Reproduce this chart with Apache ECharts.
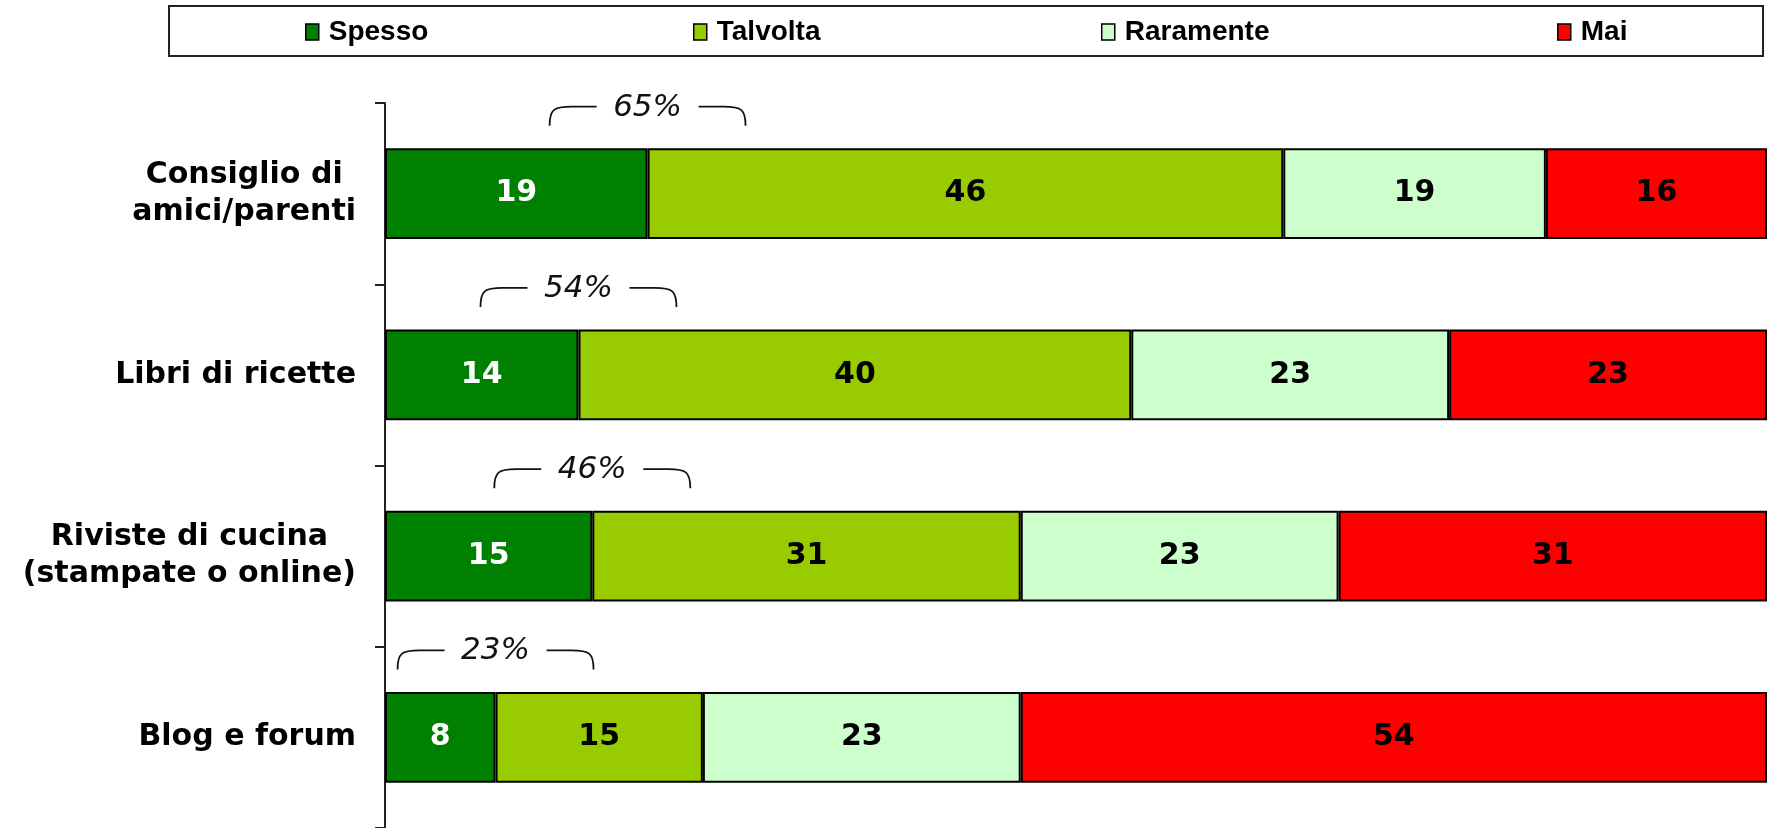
<!DOCTYPE html>
<html>
<head>
<meta charset="utf-8">
<script src="https://cdn.jsdelivr.net/npm/echarts@6/dist/echarts.min.js"></script>
<style>
  html, body { margin: 0; padding: 0; background: #fff; }
  #chart { width: 1769px; height: 828px; }
</style>
</head>
<body>
<div id="chart"></div>
<script>
const categories = ['Consiglio di\namici/parenti', 'Libri di ricette', 'Riviste di cucina\n(stampate o online)', 'Blog e forum']
const seriesNames = ['Spesso', 'Talvolta', 'Raramente', 'Mai']
const spesso = [19, 14, 15, 8]
const talvolta = [46, 40, 31, 15]
const raramente = [19, 23, 23, 23]
const mai = [16, 23, 31, 54]

const colors = ['#008000', '#99cc00', '#ccffcc', '#ff0000']
const labelColors = ['#fff', '#000', '#000', '#000']
const legendLeft = [305, 693, 1101, 1557]

const myChart = echarts.init(document.getElementById('chart'))

const barSeries = [spesso, talvolta, raramente, mai].map((d, i) => ({
  name: seriesNames[i],
  type: 'bar',
  stack: 'Total',
  barWidth: '50%',
  data: d,
  itemStyle: { color: colors[i], borderColor: '#000', borderWidth: 2 },
  label: {
    show: true,
    position: 'inside',
    color: labelColors[i],
    fontFamily: 'DejaVu Sans',
    fontWeight: 'bold',
    fontSize: 30
  }
}))

// bracket with the sum of Spesso + Talvolta, centred on their boundary
const bracket = {
  type: 'custom',
  coordinateSystem: 'cartesian2d',
  encode: { x: 0, y: 1 },
  silent: true,
  data: spesso.map((v, i) => [v, i, v + talvolta[i]]),
  renderItem: function (params, api) {
    const p = api.coord([api.value(0), api.value(1)])
    const band = api.size([0, 1])[1]
    const x = p[0]
    const yl = p[1] - band * 0.48
    const h = 19
    const path =
      `M${x - 98},${yl + h} C${x - 98},${yl + 3} ${x - 94},${yl} ${x - 76},${yl} L${x - 51},${yl} ` +
      `M${x + 51},${yl} L${x + 76},${yl} C${x + 94},${yl} ${x + 98},${yl + 3} ${x + 98},${yl + h}`
    return {
      type: 'group',
      children: [
        {
          type: 'path',
          shape: { pathData: path },
          style: { stroke: '#111', lineWidth: 1.8, fill: 'none' }
        },
        {
          type: 'text',
          style: {
            text: api.value(2) + '%',
            x: x,
            y: yl + 1,
            align: 'center',
            verticalAlign: 'middle',
            textAlign: 'center',
            textVerticalAlign: 'middle',
            font: 'italic 31px "DejaVu Sans"',
            fill: '#111'
          }
        }
      ]
    }
  }
}

const options = {
  animation: false,
  graphic: [{
    type: 'rect',
    shape: { x: 169, y: 6, width: 1594, height: 50 },
    style: { fill: '#fff', stroke: '#222', lineWidth: 2 },
    z: -1
  }],
  legend: seriesNames.map((n, i) => ({
    data: [n],
    left: legendLeft[i],
    top: 17,
    padding: 0,
    icon: 'rect',
    itemWidth: 13,
    itemHeight: 16,
    itemStyle: { borderColor: '#000', borderWidth: 1.5 },
    textStyle: {
      fontFamily: 'Liberation Sans',
      fontWeight: 'bold',
      fontSize: 28,
      lineHeight: 30,
      color: '#000',
      padding: [0, 0, 0, 5]
    },
    selectedMode: false
  })),
  grid: { left: 385, right: 2, top: 103, bottom: 0 },
  xAxis: {
    type: 'value',
    min: 0,
    max: 100,
    show: false
  },
  yAxis: {
    type: 'category',
    inverse: true,
    data: categories,
    axisLine: { show: true, lineStyle: { color: '#222', width: 2 } },
    axisTick: { show: true, alignWithLabel: false, length: 10, lineStyle: { color: '#222', width: 2 } },
    axisLabel: {
      margin: 29,
      align: 'right',
      formatter: function (value) {
        return value.split('\n').map(l => '{c|' + l + '}').join('\n')
      },
      rich: {
        c: {
          align: 'center',
          fontFamily: 'DejaVu Sans',
          fontWeight: 'bold',
          fontSize: 30,
          lineHeight: 37,
          color: '#000'
        }
      }
    }
  },
  series: barSeries.concat([bracket])
}

myChart.setOption(options)
</script>
</body>
</html>
